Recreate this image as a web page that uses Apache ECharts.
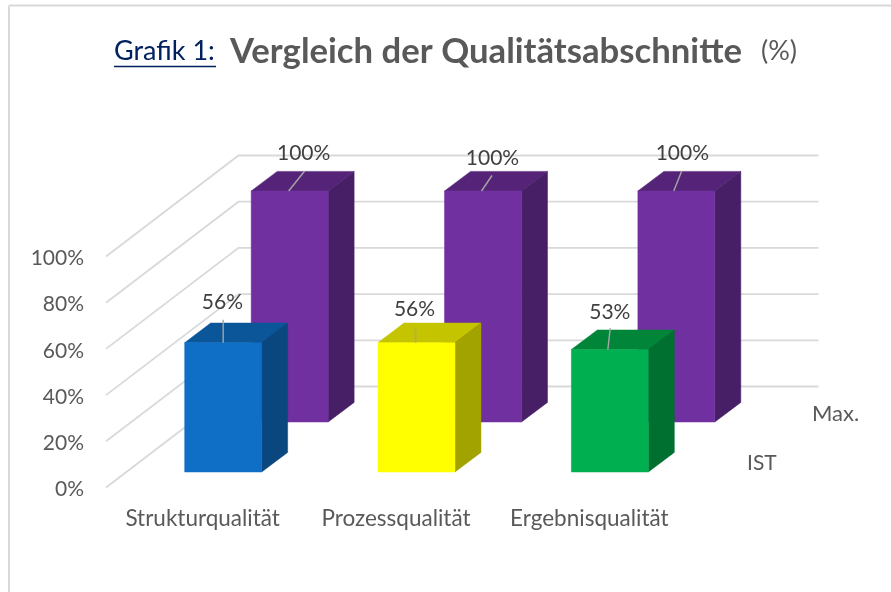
<!DOCTYPE html>
<html>
<head>
<meta charset="utf-8">
<style>html,body{margin:0;padding:0;background:#fff}#c{width:891px;height:592px}</style>
<script src="https://cdn.jsdelivr.net/npm/echarts@6/dist/echarts.min.js"></script>
</head>
<body>
<div id="c"></div>
<script>
const categories = ['Strukturqualität', 'Prozessqualität', 'Ergebnisqualität'];
const istValues = [56, 56, 53];
const maxValues = [100, 100, 100];
const yTicks = [0, 20, 40, 60, 80, 100];

const FONT = 'Lato, "Open Sans", sans-serif';
const WALL = [132.5, -101];
const BAR_DEPTH = [26, -19.6];
const BAR_RATIO = 0.398;
const styleIst = {
  offset: [20.5, -15.5],
  front: ['#0F6FC6', '#FFFF00', '#00B050'],
  top: ['#0B5599', '#C4C400', '#008539'],
  side: ['#0A477F', '#A3A300', '#007030'],
  leader: [[[0, 0], [0, -23]], [[-1, 0], [-1, -15]], [[-2, 0], [0.4, -21.5]]],
  label: [[-0.7, -40.7], [-2, -33], [0, -37.5]]
};
const styleMax = {
  offset: [87, -65.5],
  front: ['#7030A0', '#7030A0', '#7030A0'],
  top: ['#552479', '#552479', '#552479'],
  side: ['#461F66', '#461F66', '#461F66'],
  leader: [[[-1, 0], [15, -20]], [[-1.5, 0], [9, -15.5]], [[-2.6, 0], [5.4, -20]]],
  label: [[14, -38], [9.5, -32.5], [6, -38]]
};

function barRenderer(s) {
  return function (params, api) {
    const i = api.value(0);
    const c = api.coord([i, api.value(1)]);
    const b = api.coord([i, 0]);
    const band = api.size([1, 0])[0];
    const half = band * BAR_RATIO / 2;
    const x0 = c[0] + s.offset[0] - half, x1 = c[0] + s.offset[0] + half;
    const yt = c[1] + s.offset[1], yb = b[1] + s.offset[1];
    const dx = BAR_DEPTH[0], dy = BAR_DEPTH[1];
    const cx = (x0 + x1) / 2;
    const poly = (pts, fill) => ({ type: 'polygon', shape: { points: pts }, style: { fill: fill, stroke: fill, lineWidth: 0.5 } });
    const lead = s.leader[i], lab = s.label[i];
    return {
      type: 'group',
      children: [
        poly([[x0, yt], [x1, yt], [x1 + dx, yt + dy], [x0 + dx, yt + dy]], s.top[i]),
        poly([[x1, yt], [x1 + dx, yt + dy], [x1 + dx, yb + dy], [x1, yb]], s.side[i]),
        poly([[x0, yt], [x1, yt], [x1, yb], [x0, yb]], s.front[i]),
        { type: 'line', shape: { x1: cx + lead[0][0], y1: yt + lead[0][1], x2: cx + lead[1][0], y2: yt + lead[1][1] },
          style: { stroke: '#A6A6A6', lineWidth: 1.4 } },
        { type: 'text', style: { text: api.value(1) + '%', x: cx + lab[0], y: yt + lab[1], align: 'center', verticalAlign: 'middle',
          font: '21px ' + FONT, fill: '#404040' } }
      ]
    };
  };
}

function wallRenderer(params, api) {
  const c = api.coord([0, api.value(0)]);
  const band = api.size([1, 0])[0];
  const x = c[0] - band / 2, y = c[1];
  return {
    type: 'polyline',
    shape: { points: [[x, y], [x + WALL[0], y + WALL[1]], [x + WALL[0] + band * categories.length, y + WALL[1]]] },
    style: { fill: 'none', stroke: '#D9D9D9', lineWidth: 1.8 }
  };
}

const chart = echarts.init(document.getElementById('c'), null, { renderer: 'canvas' });
chart.setOption({
  backgroundColor: '#fff',
  animation: false,
  title: {
    left: 114, top: 34, padding: 0,
    text: '{a|Grafik 1:}{b|Vergleich der Qualitätsabschnitte}{c|(%)}',
    textStyle: {
      fontWeight: 'normal',
      rich: {
        a: { fontFamily: FONT, fontSize: 27, fontWeight: 'normal', color: '#002060', width: 116 },
        b: { fontFamily: FONT, fontSize: 34.7, fontWeight: 'bold', color: '#595959', width: 531 },
        c: { fontFamily: FONT, fontSize: 27, fontWeight: 'normal', color: '#595959' }
      }
    }
  },
  grid: { left: 106, top: 256.5, width: 580, height: 231 },
  xAxis: {
    type: 'category', data: categories,
    axisLine: { show: false }, axisTick: { show: false }, splitLine: { show: false },
    axisLabel: { fontFamily: FONT, fontSize: 22.5, color: '#595959', margin: 20, interval: 0 }
  },
  yAxis: {
    type: 'value', min: 0, max: 100, interval: 20,
    axisLine: { show: false }, axisTick: { show: false }, splitLine: { show: false },
    axisLabel: {
      color: '#595959', margin: 22, formatter: '{t|{value}%}',
      rich: { t: { fontFamily: FONT, fontSize: 21, color: '#595959', padding: [4, 0, 0, 0] } }
    }
  },
  series: [
    { type: 'custom', name: 'Wall', data: yTicks.map(v => [v]), encode: { y: 0 }, renderItem: wallRenderer, silent: true, z: 1, clip: false },
    { type: 'custom', name: 'Max.', data: maxValues.map((v, i) => [i, v]), encode: { x: 0, y: 1 }, renderItem: barRenderer(styleMax), z: 2, clip: false },
    { type: 'custom', name: 'IST', data: istValues.map((v, i) => [i, v]), encode: { x: 0, y: 1 }, renderItem: barRenderer(styleIst), z: 3, clip: false }
  ],
  graphic: [
    { type: 'line', silent: true, shape: { x1: 9, y1: 5.5, x2: 891, y2: 5.5 }, style: { stroke: '#D9D9D9', lineWidth: 2 } },
    { type: 'line', silent: true, shape: { x1: 9, y1: 5.5, x2: 9, y2: 592 }, style: { stroke: '#D9D9D9', lineWidth: 2 } },
    { type: 'line', silent: true, shape: { x1: 114, y1: 66.5, x2: 216, y2: 66.5 }, style: { stroke: '#002060', lineWidth: 1.6 } },
    { type: 'text', silent: true, style: { text: 'Max.', x: 812, y: 414, verticalAlign: 'middle', font: '22px ' + FONT, fill: '#595959' } },
    { type: 'text', silent: true, style: { text: 'IST', x: 747, y: 463.5, verticalAlign: 'middle', font: '21px ' + FONT, fill: '#595959' } }
  ]
});
</script>
</body>
</html>
